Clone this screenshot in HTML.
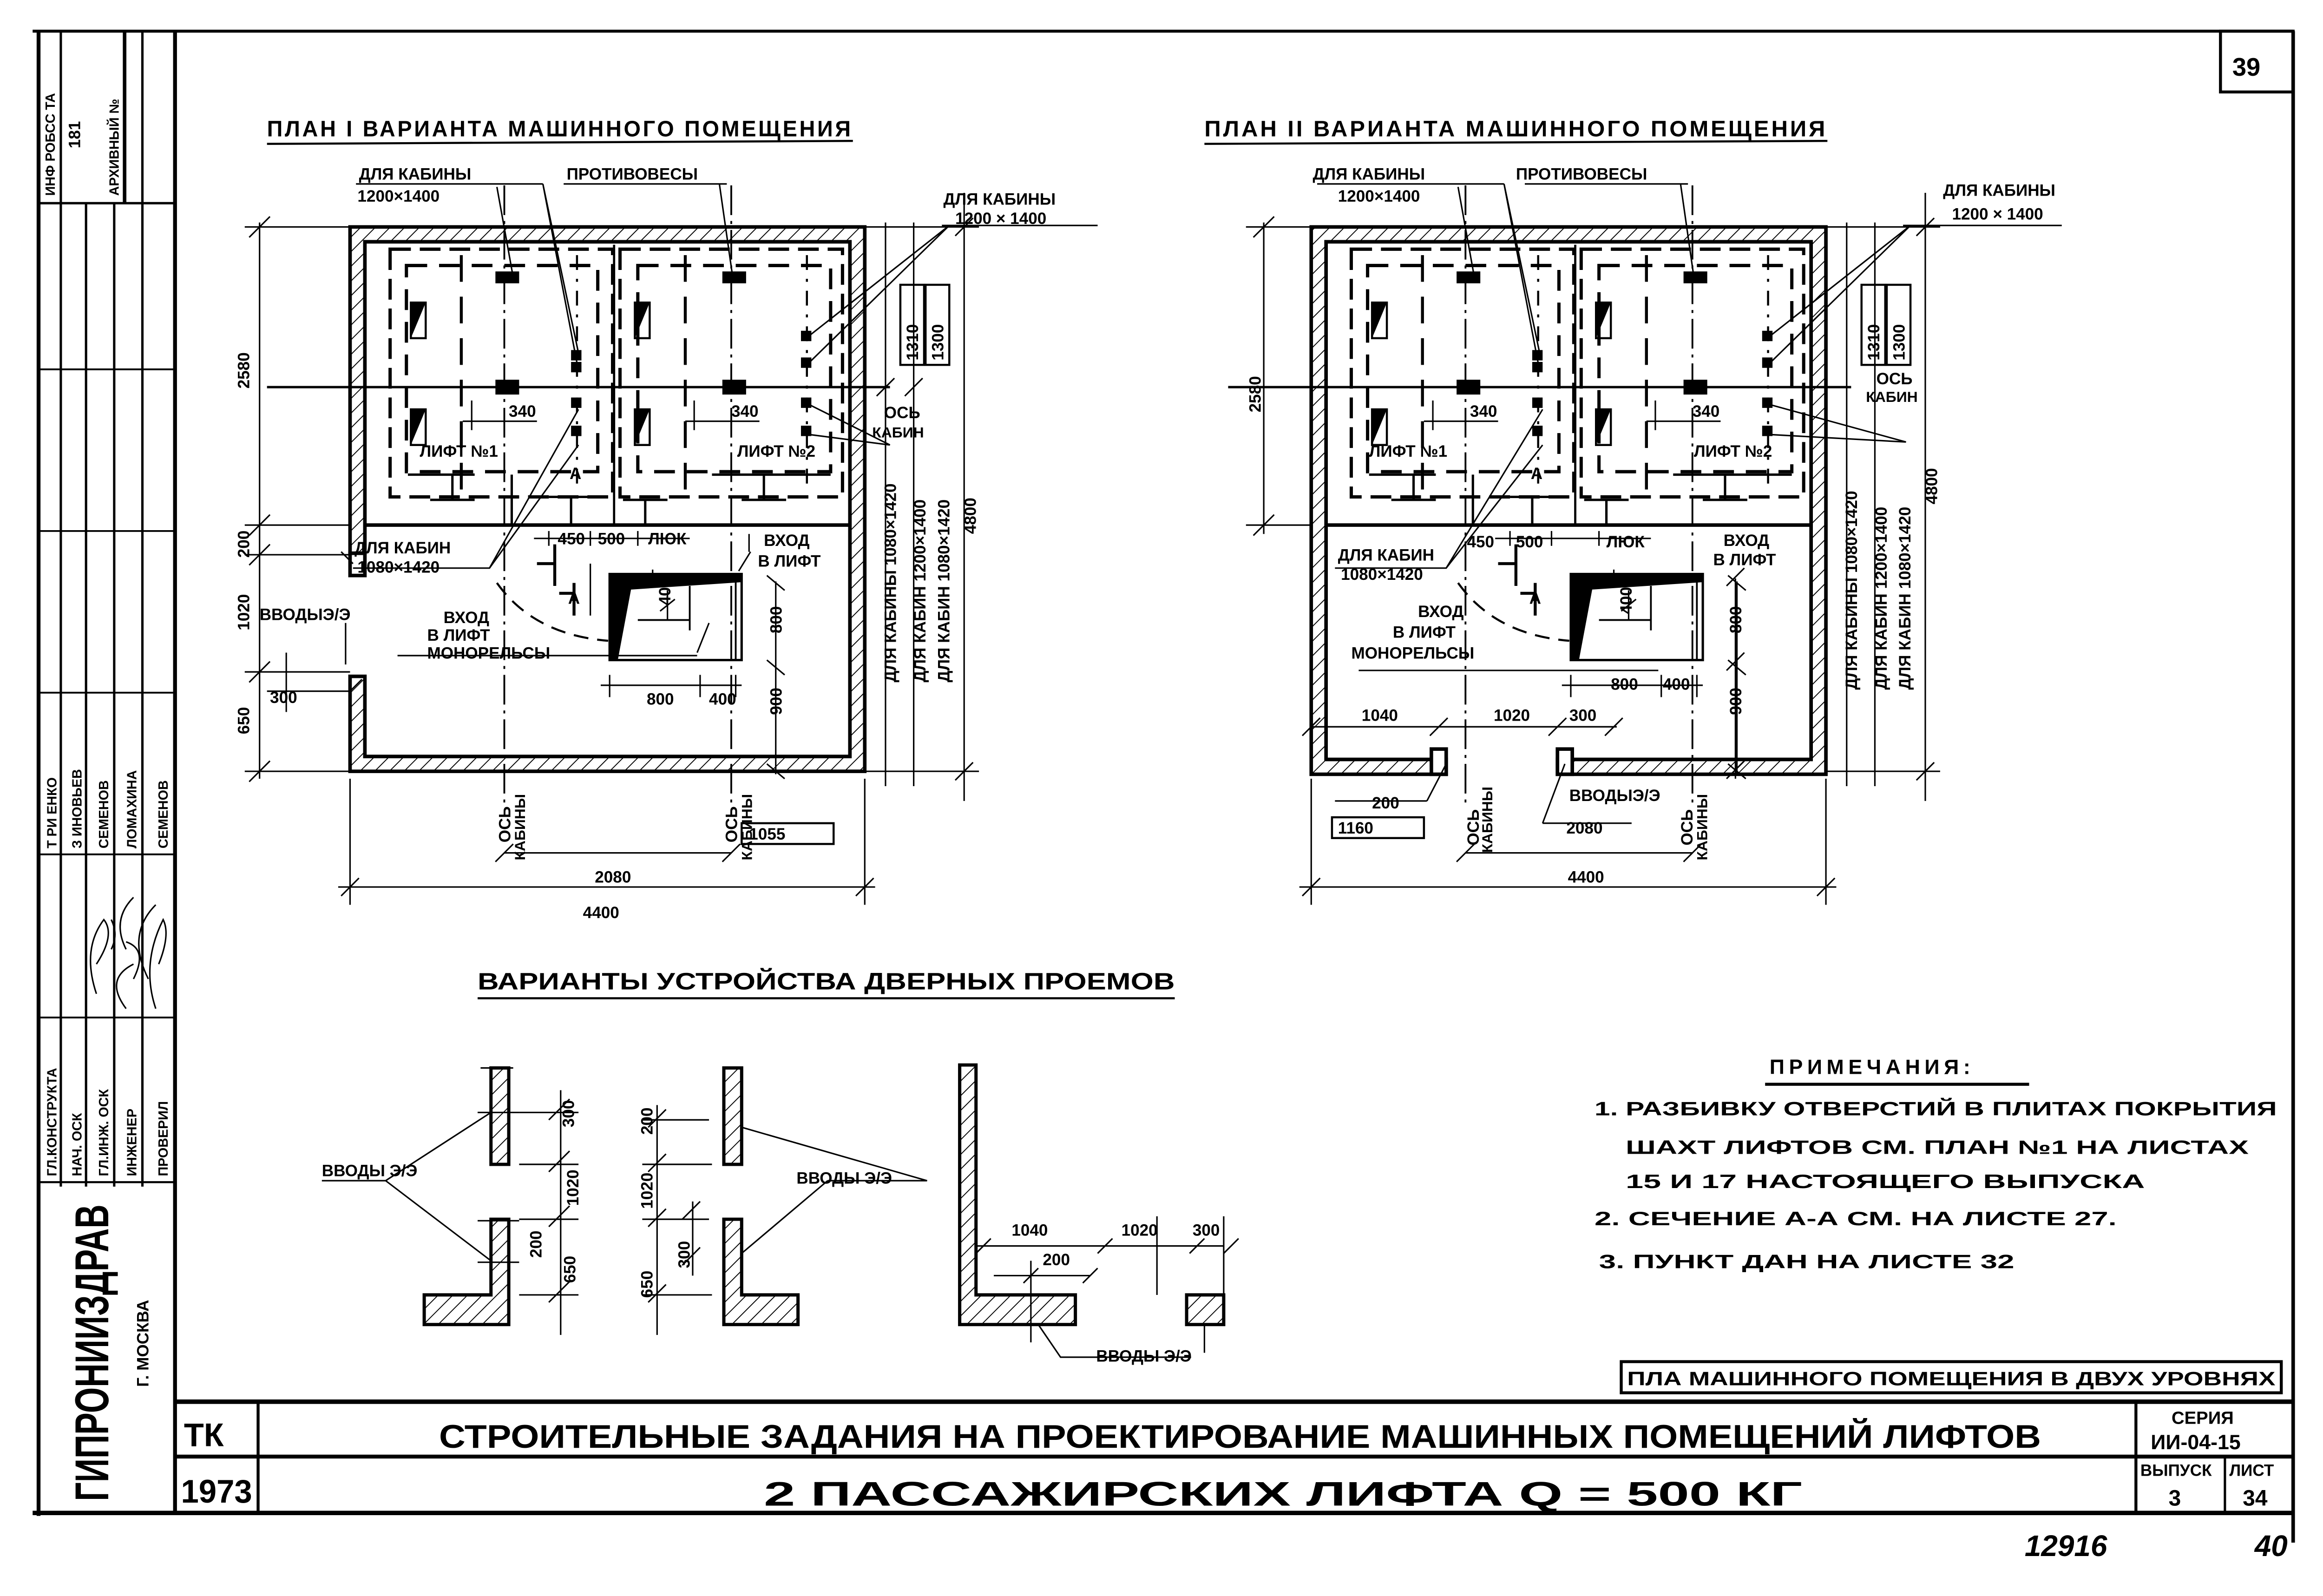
<!DOCTYPE html>
<html><head><meta charset="utf-8"><style>
html,body{margin:0;padding:0;background:#fff;}
svg{display:block;}
text{font-family:"Liberation Sans Narrow","Liberation Sans","DejaVu Sans",sans-serif;font-weight:bold;fill:#000;}
</style></head><body>
<svg width="5006" height="3435" viewBox="0 0 1568 1076" preserveAspectRatio="none" xmlns="http://www.w3.org/2000/svg">
<defs>
<pattern id="h" width="7" height="7" patternUnits="userSpaceOnUse" patternTransform="rotate(45)">
<rect width="7" height="7" fill="#fff"/><line x1="0" y1="0" x2="0" y2="7" stroke="#000" stroke-width="1.2"/>
</pattern>
<g id="lifts" stroke="#000" fill="none">
<rect x="263" y="168" width="150" height="167" stroke-width="2.2" stroke-dasharray="14,6"/>
<rect x="274" y="179" width="129" height="139" stroke-width="2.2" stroke-dasharray="14,8"/>
<rect x="418" y="168" width="150" height="167" stroke-width="2.2" stroke-dasharray="14,6"/>
<rect x="430" y="179" width="130" height="139" stroke-width="2.2" stroke-dasharray="14,8"/>
<line x1="180" y1="261" x2="600" y2="261" stroke-width="1.6"/>
<line x1="340" y1="125" x2="340" y2="545" stroke-width="1.2" stroke-dasharray="20,4,2,4"/>
<line x1="493" y1="125" x2="493" y2="545" stroke-width="1.2" stroke-dasharray="20,4,2,4"/>
<line x1="311" y1="172" x2="311" y2="330" stroke-width="2" stroke-dasharray="18,10"/>
<line x1="462" y1="172" x2="462" y2="330" stroke-width="2" stroke-dasharray="18,10"/>
<line x1="389" y1="172" x2="389" y2="330" stroke-width="1.4" stroke-dasharray="10,6,2,6"/>
<line x1="544" y1="172" x2="544" y2="330" stroke-width="1.4" stroke-dasharray="10,6,2,6"/>
<line x1="414" y1="165" x2="414" y2="354" stroke-width="1.5"/>
<g fill="#000" stroke="none">
<rect x="334" y="183" width="16" height="8"/><rect x="334" y="256" width="16" height="10"/>
<rect x="487" y="183" width="16" height="8"/><rect x="487" y="256" width="16" height="10"/>
<rect x="385" y="236" width="7" height="7"/><rect x="385" y="244" width="7" height="7"/>
<rect x="385" y="268" width="7" height="7"/><rect x="385" y="287" width="7" height="7"/>
<rect x="540" y="223" width="7" height="7"/><rect x="540" y="241" width="7" height="7"/>
<rect x="540" y="268" width="7" height="7"/><rect x="540" y="287" width="7" height="7"/>
<polygon points="277,204 287,204 277,228"/><polygon points="277,276 287,276 277,300"/>
<polygon points="428,204 438,204 428,228"/><polygon points="428,276 438,276 428,300"/>
</g>
<rect x="277" y="204" width="10" height="24" stroke-width="1.4"/><rect x="277" y="276" width="10" height="24" stroke-width="1.4"/>
<rect x="428" y="204" width="10" height="24" stroke-width="1.4"/><rect x="428" y="276" width="10" height="24" stroke-width="1.4"/>
<path d="M275 320H320 M305 320V337 M290 337H320 M345 320V354 M370 335H400 M385 335V354 M420 337H450 M435 337V354 M480 320H560 M515 320V337 M500 337H530" stroke-width="1.6"/>
<line x1="246" y1="354" x2="572" y2="354" stroke-width="2.4"/>
<rect x="411" y="387" width="89" height="58" stroke-width="1.6"/>
<polygon points="411,387 500,387 500,392 425,397 416,445 411,445" fill="#000"/>
<line x1="496" y1="387" x2="496" y2="445" stroke-width="1.2"/>
<line x1="430" y1="418" x2="465" y2="418" stroke-width="1.2"/>
<line x1="465" y1="395" x2="465" y2="425" stroke-width="1.2"/>
<path d="M335 393 Q360 428 410 432" stroke-width="1.4" stroke-dasharray="10,6"/>
<path d="M374 367V395 M362 380H374 M387 393V415 M377 400H387" stroke-width="2"/>
<path d="M360 363H465 M370 358V368 M398 358V368 M430 358V368" stroke-width="1"/>
<path d="M405 462H500 M411 455V470 M472 455V470 M496 455V470" stroke-width="1"/>
<path d="M523 392V522 M517 388L529 398 M517 445L529 455 M517 515L529 525" stroke-width="1"/>
<path d="M318 270V290 M312 284H362" stroke-width="1"/>
<path d="M468 270V290 M462 284H512" stroke-width="1"/>
<path d="M440 384V392 M450 398V418 M455 404L445 412" stroke-width="1"/>
</g>
</defs>

<g stroke="#000" fill="none">
<line x1="22" y1="21" x2="1546" y2="21" stroke-width="2"/>
<line x1="1546" y1="21" x2="1546" y2="1040" stroke-width="2.4"/>
<line x1="118" y1="21" x2="118" y2="1020" stroke-width="2.6"/>
<line x1="26" y1="21" x2="26" y2="1022" stroke-width="2.6"/>
<line x1="22" y1="1020" x2="1546" y2="1020" stroke-width="3"/>
<line x1="118" y1="945" x2="1546" y2="945" stroke-width="3"/>
<line x1="118" y1="982" x2="1546" y2="982" stroke-width="2.6"/>
<line x1="174" y1="945" x2="174" y2="1020" stroke-width="2"/>
<line x1="1440" y1="945" x2="1440" y2="1020" stroke-width="2"/>
<line x1="1500" y1="982" x2="1500" y2="1020" stroke-width="1.6"/>
<rect x="1497" y="21" width="49" height="41" stroke-width="2"/>
<line x1="41" y1="21" x2="41" y2="800" stroke-width="1.6"/>
<line x1="58" y1="137" x2="58" y2="800" stroke-width="1.6"/>
<line x1="77" y1="137" x2="77" y2="800" stroke-width="1.6"/>
<line x1="96" y1="137" x2="96" y2="800" stroke-width="1.6"/>
<line x1="84" y1="21" x2="84" y2="137" stroke-width="2.4"/>
<line x1="96" y1="21" x2="96" y2="137" stroke-width="1.6"/>
<line x1="26" y1="137" x2="118" y2="137" stroke-width="1.6"/>
<line x1="26" y1="249" x2="118" y2="249" stroke-width="1.2"/>
<line x1="26" y1="358" x2="118" y2="358" stroke-width="1.2"/>
<line x1="26" y1="467" x2="118" y2="467" stroke-width="1.2"/>
<line x1="26" y1="576" x2="118" y2="576" stroke-width="1.2"/>
<line x1="26" y1="686" x2="118" y2="686" stroke-width="1.2"/>
<line x1="26" y1="797" x2="118" y2="797" stroke-width="1.4"/>
</g>
<g font-size="9">
<text transform="translate(37,132) rotate(-90)">ИНФ РОБСС ТА</text>
<text transform="translate(54,100) rotate(-90)" font-size="11">181</text>
<text transform="translate(80,132) rotate(-90)" font-size="9">АРХИВНЫЙ №</text>
<text transform="translate(38,572) rotate(-90)">Т РИ ЕНКО</text>
<text transform="translate(55,572) rotate(-90)">З ИНОВЬЕВ</text>
<text transform="translate(73,572) rotate(-90)">СЕМЕНОВ</text>
<text transform="translate(92,572) rotate(-90)">ЛОМАХИНА</text>
<text transform="translate(113,572) rotate(-90)">СЕМЕНОВ</text>
<text transform="translate(38,793) rotate(-90)">ГЛ.КОНСТРУКТА</text>
<text transform="translate(55,793) rotate(-90)">НАЧ. ОСК</text>
<text transform="translate(73,793) rotate(-90)">ГЛ.ИНЖ. ОСК</text>
<text transform="translate(92,793) rotate(-90)">ИНЖЕНЕР</text>
<text transform="translate(113,793) rotate(-90)">ПРОВЕРИЛ</text>
<text transform="translate(73,1012) rotate(-90)" font-size="32" textLength="200" lengthAdjust="spacingAndGlyphs">ГИПРОНИИЗДРАВ</text>
<text transform="translate(100,935) rotate(-90)" font-size="11">Г. МОСКВА</text>
</g>
<g fill="none" stroke="#000" stroke-width="1">
<path d="M85 680 q-15 -20 5 -30 M90 660 q10-20 -5-25"/>
<path d="M65 670 q-10 -30 5 -50 q8 10 -5 30 M75 640 q5-10 0-20"/>
<path d="M85 640 q-10 -20 5 -35 M100 660 q-15 -30 5 -50"/>
<path d="M105 680 q-10 -30 5 -60 q5 10 -3 30"/>
</g>
<text x="1505" y="51" font-size="17">39</text>

<text x="180" y="92" font-size="15" letter-spacing="1.5" textLength="395" lengthAdjust="spacingAndGlyphs">ПЛАН I ВАРИАНТА МАШИННОГО ПОМЕЩЕНИЯ</text>
<line x1="180" y1="97" x2="575" y2="95" stroke="#000" stroke-width="1.4"/>
<text x="812" y="92" font-size="15" letter-spacing="1.5" textLength="420" lengthAdjust="spacingAndGlyphs">ПЛАН II ВАРИАНТА МАШИННОГО ПОМЕЩЕНИЯ</text>
<line x1="812" y1="97" x2="1232" y2="95" stroke="#000" stroke-width="1.4"/>
<text x="322" y="667" font-size="16" textLength="470" lengthAdjust="spacingAndGlyphs">ВАРИАНТЫ УСТРОЙСТВА ДВЕРНЫХ ПРОЕМОВ</text>
<line x1="322" y1="673" x2="792" y2="673" stroke="#000" stroke-width="1.4"/>

<g stroke="#000" stroke-width="2.4">
<path d="M236 153H583V520H236V456H246V510H573V163H246V373H236Z" fill="url(#h)"/>
<rect x="236" y="373" width="10" height="15" fill="#fff"/>
</g>
<use href="#lifts"/>
<g stroke="#000" stroke-width="2.4">
<path d="M884 153H1231V522H1050V512H1221V163H894V512H975V522H884Z" fill="url(#h)"/>
<rect x="965" y="505" width="10" height="17" fill="#fff"/>
<rect x="1050" y="505" width="10" height="17" fill="#fff"/>
</g>
<use href="#lifts" transform="translate(648,0)"/>

<g stroke="#000" fill="none" stroke-width="1">
<line x1="165" y1="153" x2="236" y2="153"/><line x1="165" y1="354" x2="236" y2="354"/>
<line x1="175" y1="150" x2="175" y2="525"/>
<path d="M168 160l14-14 M168 361l14-14 M168 381l14-14 M168 460l14-14 M168 527l14-14"/>
<line x1="165" y1="374" x2="236" y2="374"/><line x1="165" y1="453" x2="236" y2="453"/><line x1="165" y1="520" x2="236" y2="520"/>
<line x1="193" y1="440" x2="193" y2="480"/><line x1="180" y1="466" x2="236" y2="466"/>
<line x1="236" y1="525" x2="236" y2="610"/><line x1="583" y1="525" x2="583" y2="610"/>
<line x1="228" y1="598" x2="590" y2="598"/><path d="M230 604l12-12 M577 604l12-12"/>
<line x1="340" y1="575" x2="493" y2="575"/><path d="M334 581l12-12 M487 581l12-12"/>
<line x1="597" y1="150" x2="597" y2="530"/><line x1="616" y1="150" x2="616" y2="530"/><line x1="650" y1="130" x2="650" y2="540"/>
<line x1="583" y1="153" x2="660" y2="153"/><line x1="583" y1="520" x2="660" y2="520"/>
<path d="M644 159l12-12 M644 526l12-12 M591 267l12-12 M610 267l12-12"/>
<path d="M240 124H366 M335 126L346 187 M366 124L390 238 M366 124L390 250"/>
<path d="M380 124H490 M485 124L494 187"/>
<path d="M635 152H740 M640 152L546 226 M640 152L546 244"/>
<path d="M600 300L546 273 M600 300L546 293"/>
<path d="M238 383H330 L390 276 M330 383L390 300"/>
<path d="M268 442H470 M470 440L478 420"/>
<path d="M398 380V415 M498 385L506 372 M505 372V360"/>
<path d="M230 372L238 380 M233 420V448 M244 458l-8 8"/>
<rect x="500" y="555" width="62" height="14" stroke-width="1.4"/>
<rect x="607" y="192" width="16" height="54" stroke-width="1.4"/><rect x="624" y="192" width="16" height="54" stroke-width="1.4"/>
<line x1="840" y1="153" x2="884" y2="153"/><line x1="840" y1="354" x2="884" y2="354"/>
<line x1="852" y1="150" x2="852" y2="360"/>
<path d="M845 160l14-14 M845 361l14-14"/>
<line x1="884" y1="525" x2="884" y2="610"/><line x1="1231" y1="525" x2="1231" y2="610"/>
<line x1="876" y1="598" x2="1238" y2="598"/><path d="M878 604l12-12 M1225 604l12-12"/>
<line x1="884" y1="490" x2="1090" y2="490"/><path d="M878 496l12-12 M964 496l12-12 M1044 496l12-12 M1082 496l12-12"/>
<line x1="988" y1="575" x2="1141" y2="575"/><path d="M982 581l12-12 M1135 581l12-12"/>
<line x1="1170" y1="390" x2="1170" y2="525"/><path d="M1164 395l12-12 M1164 452l12-12 M1164 525l12-12"/>
<line x1="1245" y1="150" x2="1245" y2="530"/><line x1="1264" y1="150" x2="1264" y2="530"/><line x1="1298" y1="130" x2="1298" y2="540"/>
<line x1="1231" y1="153" x2="1308" y2="153"/><line x1="1231" y1="520" x2="1308" y2="520"/>
<path d="M1292 159l12-12 M1292 526l12-12"/>
<path d="M888 124H1014 M983 126L994 187 M1014 124L1038 238 M1014 124L1038 250"/>
<path d="M1028 124H1138 M1133 124L1142 187"/>
<path d="M1283 152H1390 M1288 152L1194 226 M1288 152L1194 244"/>
<path d="M1285 298L1194 273 M1285 298L1194 293"/>
<path d="M900 383H975 L1040 276 M975 383L1040 300"/>
<path d="M916 452H1118"/>
<rect x="898" y="551" width="62" height="14" stroke-width="1.4"/>
<rect x="1255" y="192" width="16" height="54" stroke-width="1.4"/><rect x="1272" y="192" width="16" height="54" stroke-width="1.4"/>
<path d="M900 540H962 M962 540L975 515"/>
<path d="M1040 555H1100 M1040 555L1055 515"/>
</g>

<g font-size="11">
<text x="242" y="121">ДЛЯ КАБИНЫ</text>
<text x="241" y="136">1200×1400</text>
<text x="382" y="121">ПРОТИВОВЕСЫ</text>
<text x="636" y="138">ДЛЯ КАБИНЫ</text>
<text x="644" y="151">1200 × 1400</text>
<text x="343" y="281">340</text><text x="493" y="281">340</text>
<text x="283" y="308">ЛИФТ №1</text><text x="497" y="308">ЛИФТ №2</text>
<text x="384" y="323">А</text><text x="383" y="407">А</text>
<text x="376" y="367">450</text><text x="403" y="367">500</text>
<text x="437" y="367">ЛЮК</text>
<text x="515" y="368">ВХОД</text><text x="511" y="382">В ЛИФТ</text>
<text x="239" y="373">ДЛЯ КАБИН</text><text x="241" y="386">1080×1420</text>
<text x="299" y="420">ВХОД</text><text x="288" y="432">В ЛИФТ</text><text x="288" y="444">МОНОРЕЛЬСЫ</text>
<text x="175" y="418">ВВОДЫЭ/Э</text>
<text x="436" y="475">800</text><text x="478" y="475">400</text>
<text x="401" y="595">2080</text><text x="393" y="619">4400</text>
<text x="505" y="566">1055</text>
<text transform="translate(168,262) rotate(-90)">2580</text>
<text transform="translate(168,425) rotate(-90)">1020</text>
<text transform="translate(168,376) rotate(-90)">200</text>
<text transform="translate(168,495) rotate(-90)">650</text>
<text x="182" y="474">300</text>
<text transform="translate(452,408) rotate(-90)">400</text>
<text transform="translate(527,427) rotate(-90)">800</text>
<text transform="translate(527,482) rotate(-90)">900</text>
<text transform="translate(619,243) rotate(-90)">1310</text>
<text transform="translate(636,243) rotate(-90)">1300</text>
<text x="596" y="282">ОСЬ</text>
<text x="588" y="295" font-size="10">КАБИН</text>
<text transform="translate(604,460) rotate(-90)">ДЛЯ КАБИНЫ 1080×1420</text>
<text transform="translate(624,460) rotate(-90)">ДЛЯ КАБИН 1200×1400</text>
<text transform="translate(640,460) rotate(-90)">ДЛЯ КАБИН 1080×1420</text>
<text transform="translate(658,360) rotate(-90)">4800</text>
<text transform="translate(344,568) rotate(-90)">ОСЬ</text><text transform="translate(354,580) rotate(-90)" font-size="10">КАБИНЫ</text>
<text transform="translate(497,568) rotate(-90)">ОСЬ</text><text transform="translate(507,580) rotate(-90)" font-size="10">КАБИНЫ</text>
</g>
<g font-size="11">
<text x="885" y="121">ДЛЯ КАБИНЫ</text>
<text x="902" y="136">1200×1400</text>
<text x="1022" y="121">ПРОТИВОВЕСЫ</text>
<text x="1310" y="132">ДЛЯ КАБИНЫ</text>
<text x="1316" y="148">1200 × 1400</text>
<text x="991" y="281">340</text><text x="1141" y="281">340</text>
<text x="923" y="308">ЛИФТ №1</text><text x="1142" y="308">ЛИФТ №2</text>
<text x="1032" y="323">А</text><text x="1031" y="407">А</text>
<text x="989" y="369">450</text><text x="1022" y="369">500</text>
<text x="1083" y="369">ЛЮК</text>
<text x="1162" y="368">ВХОД</text><text x="1155" y="381">В ЛИФТ</text>
<text x="902" y="378">ДЛЯ КАБИН</text><text x="904" y="391">1080×1420</text>
<text x="956" y="416">ВХОД</text><text x="939" y="430">В ЛИФТ</text><text x="911" y="444">МОНОРЕЛЬСЫ</text>
<text x="1086" y="465">800</text><text x="1121" y="465">400</text>
<text x="918" y="486">1040</text><text x="1007" y="486">1020</text><text x="1058" y="486">300</text>
<text x="925" y="545">200</text><text x="902" y="562">1160</text>
<text x="1058" y="540">ВВОДЫЭ/Э</text>
<text x="1056" y="562">2080</text><text x="1057" y="595">4400</text>
<text transform="translate(850,278) rotate(-90)">2580</text>
<text transform="translate(1100,414) rotate(-90)">400</text>
<text transform="translate(1174,427) rotate(-90)">800</text>
<text transform="translate(1174,482) rotate(-90)">900</text>
<text transform="translate(1267,243) rotate(-90)">1310</text>
<text transform="translate(1284,243) rotate(-90)">1300</text>
<text x="1265" y="259">ОСЬ</text><text x="1258" y="271" font-size="10">КАБИН</text>
<text transform="translate(1252,465) rotate(-90)">ДЛЯ КАБИНЫ 1080×1420</text>
<text transform="translate(1272,465) rotate(-90)">ДЛЯ КАБИН 1200×1400</text>
<text transform="translate(1288,465) rotate(-90)">ДЛЯ КАБИН 1080×1420</text>
<text transform="translate(1306,340) rotate(-90)">4800</text>
<text transform="translate(997,570) rotate(-90)">ОСЬ</text><text transform="translate(1006,575) rotate(-90)" font-size="10">КАБИНЫ</text>
<text transform="translate(1141,570) rotate(-90)">ОСЬ</text><text transform="translate(1151,580) rotate(-90)" font-size="10">КАБИНЫ</text>
</g>

<!-- door variants -->
<g stroke="#000" fill="none">
<g stroke-width="2.2">
<rect x="331" y="720" width="12" height="65" fill="url(#h)"/>
<path d="M331 822H343V893H286V873H331Z" fill="url(#h)"/>
<rect x="488" y="720" width="12" height="65" fill="url(#h)"/>
<path d="M488 822H500V873H538V893H488Z" fill="url(#h)"/>
<path d="M647 718H658V873H725V893H647Z" fill="url(#h)"/>
<path d="M800 873H825V893H800Z" fill="url(#h)"/>
</g>
<g stroke-width="1">
<path d="M324 720H346 M322 750H350 M322 823H350 M322 851H350"/>
<path d="M350 750H390 M350 785H390 M350 822H390 M350 873H390 M378 735V900"/>
<path d="M370 755l14-14 M370 790l14-14 M370 827l14-14 M370 878l14-14"/>
<path d="M217 796H260 L331 750 M260 796L331 850"/>
<path d="M433 755H478 M433 785H480 M433 822H478 M433 873H480 M443 745V900"/>
<path d="M437 760l12-12 M437 790l12-12 M437 827l12-12 M437 878l12-12"/>
<path d="M467 810V860 M460 822l12-12 M460 853l12-12"/>
<path d="M558 796H625 L500 760 M558 796L500 845"/>
<path d="M658 840H825 M658 845l10-10 M740 845l10-10 M802 845l10-10 M825 845l10-10"/>
<path d="M670 860H735 M695 850V905 M690 865l10-10 M730 865l10-10"/>
<path d="M700 893L715 915 H803 M812 893V912"/>
<path d="M780 820V873 M825 820V873"/>
</g>
</g>
<g font-size="11">
<text x="217" y="793">ВВОДЫ Э/Э</text>
<text x="537" y="798">ВВОДЫ Э/Э</text>
<text x="739" y="918">ВВОДЫ Э/Э</text>
<text transform="translate(387,760) rotate(-90)">300</text>
<text transform="translate(390,813) rotate(-90)">1020</text>
<text transform="translate(365,848) rotate(-90)">200</text>
<text transform="translate(388,865) rotate(-90)">650</text>
<text transform="translate(440,765) rotate(-90)">200</text>
<text transform="translate(440,815) rotate(-90)">1020</text>
<text transform="translate(440,875) rotate(-90)">650</text>
<text transform="translate(465,855) rotate(-90)">300</text>
<text x="682" y="833">1040</text><text x="756" y="833">1020</text><text x="804" y="833">300</text>
<text x="703" y="853">200</text>
</g>

<g font-size="14">
<text x="1193" y="724" letter-spacing="3">ПРИМЕЧАНИЯ:</text>
<line x1="1190" y1="731" x2="1368" y2="731" stroke="#000" stroke-width="2"/>
<text x="1075" y="752" font-size="13" textLength="460" lengthAdjust="spacingAndGlyphs">1. РАЗБИВКУ ОТВЕРСТИЙ В ПЛИТАХ ПОКРЫТИЯ</text>
<text x="1096" y="778" font-size="13" textLength="420" lengthAdjust="spacingAndGlyphs">ШАХТ ЛИФТОВ СМ. ПЛАН №1 НА ЛИСТАХ</text>
<text x="1096" y="801" font-size="13" textLength="350" lengthAdjust="spacingAndGlyphs">15 И 17 НАСТОЯЩЕГО ВЫПУСКА</text>
<text x="1075" y="826" font-size="13" textLength="352" lengthAdjust="spacingAndGlyphs">2. СЕЧЕНИЕ А-А СМ. НА ЛИСТЕ 27.</text>
<text x="1078" y="855" font-size="13" textLength="280" lengthAdjust="spacingAndGlyphs">3. ПУНКТ ДАН НА ЛИСТЕ 32</text>
</g>
<rect x="1093" y="918" width="445" height="21" fill="none" stroke="#000" stroke-width="2"/>
<text x="1097" y="934" font-size="13" textLength="437" lengthAdjust="spacingAndGlyphs">ПЛА МАШИННОГО ПОМЕЩЕНИЯ В ДВУХ УРОВНЯХ</text>

<text x="124" y="975" font-size="22">ТК</text>
<text x="122" y="1013" font-size="22" textLength="48" lengthAdjust="spacingAndGlyphs">1973</text>
<text x="296" y="976" font-size="22" textLength="1080" lengthAdjust="spacingAndGlyphs">СТРОИТЕЛЬНЫЕ ЗАДАНИЯ НА ПРОЕКТИРОВАНИЕ МАШИННЫХ ПОМЕЩЕНИЙ ЛИФТОВ</text>
<text x="515" y="1015" font-size="23" textLength="700" lengthAdjust="spacingAndGlyphs">2 ПАССАЖИРСКИХ ЛИФТА Q = 500 КГ</text>
<text x="1464" y="960" font-size="12">СЕРИЯ</text>
<text x="1450" y="977" font-size="14">ИИ-04-15</text>
<text x="1443" y="995" font-size="11">ВЫПУСК</text><text x="1503" y="995" font-size="11">ЛИСТ</text>
<text x="1462" y="1015" font-size="15" font-weight="normal">3</text><text x="1512" y="1015" font-size="15" font-weight="normal">34</text>
<text x="1365" y="1049" font-size="20" font-style="italic" font-weight="normal">12916</text>
<text x="1520" y="1049" font-size="20" font-style="italic" font-weight="normal">40</text>
</svg>
</body></html>
